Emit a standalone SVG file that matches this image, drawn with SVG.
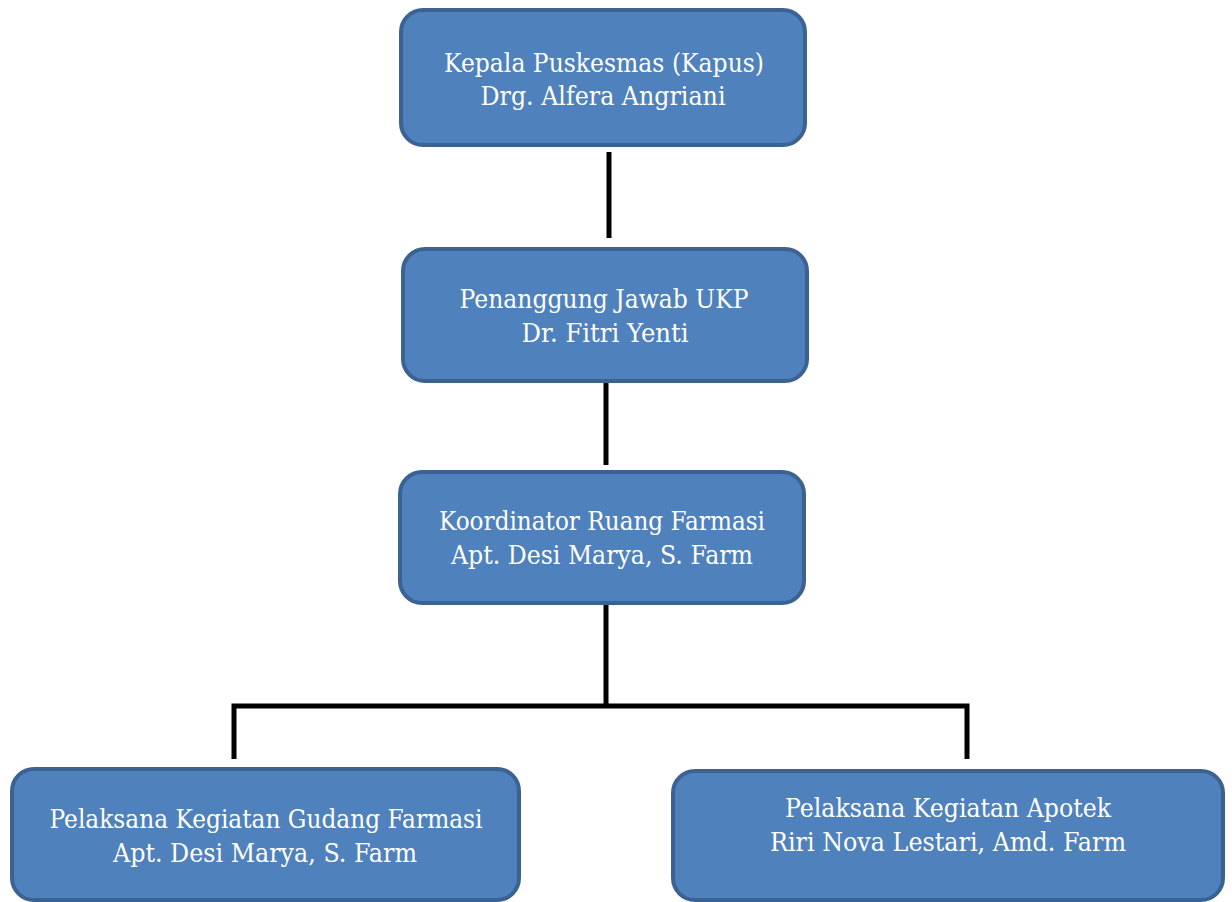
<svg xmlns="http://www.w3.org/2000/svg" width="1232" height="902" viewBox="0 0 1232 902">
<style>
.box{fill:#4f81bd;stroke:#3b6290;stroke-width:4}
.t{font-family:'DejaVu Serif',serif;font-size:26.5px;fill:#ffffff;text-anchor:middle}
.c{stroke:#000;stroke-width:5;fill:none}
</style>
<rect width="1232" height="902" fill="#ffffff"/>
<g id="connectors">
<line class="c" x1="609" y1="152" x2="609" y2="238"/>
<line class="c" x1="606" y1="381" x2="606" y2="465"/>
<line class="c" x1="606" y1="605" x2="606" y2="706"/>
<polyline class="c" points="234,759 234,706 967,706 967,759"/>
</g>
<g id="n1">
<rect class="box" x="401" y="10" width="404" height="135" rx="22"/>
<text class="t" x="604" y="72" textLength="320" lengthAdjust="spacingAndGlyphs">Kepala Puskesmas (Kapus)</text>
<text class="t" x="603" y="105" textLength="245" lengthAdjust="spacingAndGlyphs">Drg. Alfera Angriani</text>
</g>
<g id="n2">
<rect class="box" x="403" y="249" width="404" height="132" rx="22"/>
<text class="t" x="604" y="308" textLength="289" lengthAdjust="spacingAndGlyphs">Penanggung Jawab UKP</text>
<text class="t" x="605" y="342" textLength="167" lengthAdjust="spacingAndGlyphs">Dr. Fitri Yenti</text>
</g>
<g id="n3">
<rect class="box" x="400" y="472" width="404" height="131" rx="22"/>
<text class="t" x="602" y="530" textLength="326" lengthAdjust="spacingAndGlyphs">Koordinator Ruang Farmasi</text>
<text class="t" x="602" y="564" textLength="302" lengthAdjust="spacingAndGlyphs">Apt. Desi Marya, S. Farm</text>
</g>
<g id="n4">
<rect class="box" x="12" y="769" width="507" height="131" rx="22"/>
<text class="t" x="266" y="828" textLength="433" lengthAdjust="spacingAndGlyphs">Pelaksana Kegiatan Gudang Farmasi</text>
<text class="t" x="265" y="862" textLength="304" lengthAdjust="spacingAndGlyphs">Apt. Desi Marya, S. Farm</text>
</g>
<g id="n5">
<rect class="box" x="673" y="771" width="550" height="129" rx="22"/>
<text class="t" x="948" y="817" textLength="326" lengthAdjust="spacingAndGlyphs">Pelaksana Kegiatan Apotek</text>
<text class="t" x="948" y="851" textLength="356" lengthAdjust="spacingAndGlyphs">Riri Nova Lestari, Amd. Farm</text>
</g>
</svg>
